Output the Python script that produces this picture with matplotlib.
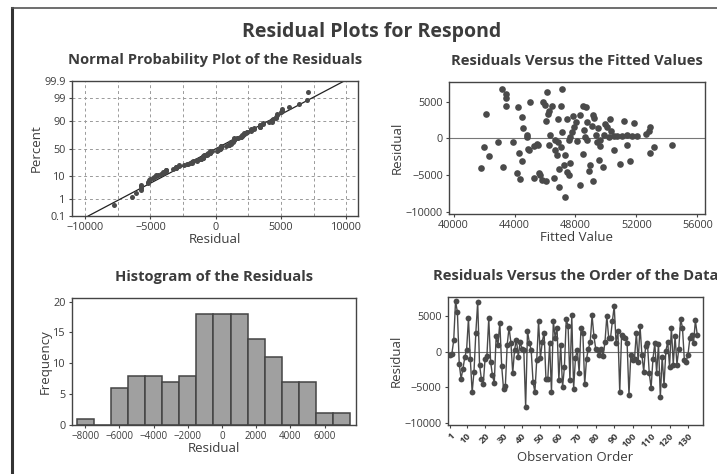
import numpy as np
import matplotlib
matplotlib.use("Agg")
import matplotlib.pyplot as plt
from matplotlib.lines import Line2D
from statistics import NormalDist

# residuals in observation order
residuals = [
    -400, -300, 1600, 7100, 5600, -1700, -3800, -2400, -800, 300,
    4700, -1000, -5700, -2800, 2700, 7000, -1800, -3800, -4600, -1000,
    -600, 4700, -1400, -3300, -4400, 2200, 1000, 4100, -2000, -5200,
    -4800, 1000, 3400, 1300, -3000, 300, 1700, -700, 1400, 400,
    200, -7800, 2900, 1300, 200, -4200, -5700, -1200, 4300, -900,
    1400, 2700, -3800, -3900, 1200, -5700, 4300, 2000, 3400, -4000,
    1000, -5000, -2200, 4600, 3600, -4000, 5100, -5200, -900, 300,
    -3000, 3400, 2700, -4600, -1000, 400, 1400, 5100, 2200, 400,
    200, -400, 400, -600, 1400, 5000, 2000, 1900, 4300, 6400,
    1300, 2900, -5700, 2400, 2100, 2000, 1200, -6100, -400, -1100,
    -1000, 2700, -1400, 3600, -400, -2800, 800, 1200, -3000, -5100,
    -1000, 1200, -3000, 1100, -6400, -700, -4700, 100, 1400, -2100,
    3400, -1800, 2200, -1800, 400, 4600, 3400, -1100, -1400, -400,
    1900, 2300, 1200, 4400, 2400,
]

# residuals vs fits scatter
fitted_x = [
    43190, 43450, 43410, 44220, 42140, 44500, 45000, 46140, 47120, 45880,
    46030, 46470, 47060, 46250, 46180, 46100, 46840, 44570, 44790, 44790,
    47450, 47850, 48280, 48500, 48700, 49160, 49250, 48760, 49090, 49460,
    50250, 50080, 50340, 51210, 51870, 47930, 47780, 47120, 46360, 47630,
    48650, 49380, 49860, 50510, 50730, 51060, 51390, 51710, 52870, 52810,
    52650, 42930, 43910, 41990, 42320, 41810, 43260, 44280, 44870, 45530,
    45270, 46250, 46840, 46690, 47020, 47560, 48110, 48760, 49420, 49640,
    50510, 51390, 53130, 54340, 52920, 44500, 44180, 44390, 45600, 45270,
    45810, 46100, 46580, 46910, 46910, 47340, 47230, 47630, 47450, 47560,
    48500, 48980, 48870, 49530, 49810, 48330, 49160, 50950, 51610, 47340,
    46690, 45490, 44940, 48060, 48590, 49640, 50180, 49970, 52040, 46800,
    45700, 43410,
]
fitted_res = [
    6710, 5580, 4460, 4230, 3330, 2970, 4910, 6350, 6800, 5000,
    4550, 4370, 4370, 3780, 3330, 2430, 2660, 1400, 500, 250,
    2660, 3110, 3200, 4460, 4230, 3200, 2750, 2210, 1670, 1400,
    2660, 1530, 1080, 2340, 2070, 1530, 860, 860, 500, 180,
    180, 500, 500, 400, 320, 400, 500, 320, 1530, 1080,
    630, -500, -500, -1170, -2390, -4010, -3870, -1940, -1490, -860,
    -1040, -860, -500, -1620, -1170, -270, -400, -270, -500, -1080,
    -1620, -950, -1170, -860, -1980, -3110, -4640, -5540, -4640, -5360,
    -5670, -5810, -5450, -6580, -4100, -2210, -3560, -3290, -4550, -5000,
    -2070, -3560, -4460, -2970, -3870, -6350, -5810, -3420, -3110, -7930,
    -270, -720, -1620, 2210, 1170, -270, 180, 1980, 270, -2300,
    -5000, 6040,
]

hist_edges = np.arange(-8500, 8500, 1000)

prob_ticks = [0.1, 1, 10, 50, 90, 99, 99.9]
prob_labels = ["0.1", "1", "10", "50", "90", "99", "99.9"]
order_ticks = [1, 10, 20, 30, 40, 50, 60, 70, 80, 90, 100, 110, 120, 130]

TXT = "#3c3c3c"
MARK = "#4a4a4a"
FONT = "Open Sans"

plt.rcParams["font.family"] = [FONT, "DejaVu Sans"]
plt.rcParams["axes.edgecolor"] = "#444444"
plt.rcParams["axes.linewidth"] = 1.0
plt.rcParams["xtick.color"] = "#444444"
plt.rcParams["ytick.color"] = "#444444"
plt.rcParams["xtick.labelcolor"] = TXT
plt.rcParams["ytick.labelcolor"] = TXT
plt.rcParams["xtick.labelsize"] = 7.8
plt.rcParams["ytick.labelsize"] = 7.8
plt.rcParams["xtick.major.size"] = 2.5
plt.rcParams["ytick.major.size"] = 2.5
plt.rcParams["xtick.major.pad"] = 2
plt.rcParams["ytick.major.pad"] = 2


def panel_title(fig, ax, text):
    pos = ax.get_position()
    fig.text((pos.x0 + pos.x1) / 2, pos.y1 + 0.03, text, ha="center", va="bottom",
             fontsize=10.6, fontweight="bold", color=TXT)


fig = plt.figure(figsize=(7.17, 4.74), dpi=100)

ax1 = fig.add_axes([0.1004, 0.5443, 0.399, 0.2848])
ax2 = fig.add_axes([0.6262, 0.5485, 0.357, 0.2785])
ax3 = fig.add_axes([0.1004, 0.1034, 0.396, 0.268])
ax4 = fig.add_axes([0.6248, 0.1034, 0.3556, 0.27])

# normal probability plot
nd = NormalDist()
res = np.array(residuals, dtype=float)
n = len(res)
srt = np.sort(res)
pct = (np.arange(1, n + 1) - 0.3) / (n + 0.4)
zs = np.array([nd.inv_cdf(p) for p in pct])
mu, sd = res.mean(), res.std(ddof=1)
zlo, zhi = nd.inv_cdf(0.001), nd.inv_cdf(0.999)
ax1.plot([mu + zlo * sd, mu + zhi * sd], [zlo, zhi], color="#222222", lw=0.9)
ax1.plot(srt, zs, "o", color=MARK, ms=3.6, mec="none")
ax1.set_xlim(-11000, 10900)
ax1.set_ylim(zlo, zhi)
ax1.set_xticks([-10000, -5000, 0, 5000, 10000])
ax1.set_xticks(np.arange(-10000, 10001, 2500), minor=True)
ax1.set_yticks([nd.inv_cdf(p / 100) for p in prob_ticks])
ax1.set_yticklabels(prob_labels)
ax1.tick_params(which="minor", length=0)
ax1.grid(True, which="both", axis="x", ls=(0, (3, 3)), color="#9a9a9a", lw=0.7)
ax1.grid(True, which="major", axis="y", ls=(0, (3, 3)), color="#9a9a9a", lw=0.7)
ax1.set_axisbelow(True)
ax1.set_xlabel("Residual", fontsize=9.5, color=TXT, labelpad=0)
ax1.set_ylabel("Percent", fontsize=9.5, color=TXT, labelpad=1)

# residuals vs fitted values
ax2.axhline(0, color="#777777", lw=0.8)
ax2.plot(fitted_x, fitted_res, "o", color=MARK, ms=4.8, mec="none")
ax2.set_xlim(39700, 56500)
ax2.set_ylim(-10300, 7700)
ax2.set_xticks(np.arange(40000, 56001, 4000))
ax2.set_yticks([-10000, -5000, 0, 5000])
ax2.set_xlabel("Fitted Value", fontsize=9.5, color=TXT, labelpad=0)
ax2.set_ylabel("Residual", fontsize=9.5, color=TXT, labelpad=1)

# histogram
ax3.hist(res, bins=hist_edges, color="#a0a0a0", edgecolor="#444444", lw=1.1)
ax3.set_xlim(-8770, 7830)
ax3.set_ylim(0, 20.6)
ax3.set_xticks(np.arange(-8000, 6001, 2000))
ax3.set_yticks([0, 5, 10, 15, 20])
ax3.tick_params(axis="x", labelsize=7)
ax3.set_xlabel("Residual", fontsize=9.5, color=TXT, labelpad=0)
ax3.set_ylabel("Frequency", fontsize=9.5, color=TXT, labelpad=1)

# residuals vs order
obs = np.arange(1, n + 1)
ax4.axhline(0, color="#777777", lw=0.8)
ax4.plot(obs, res, "-o", color=MARK, lw=1.0, ms=4.2, mec="none")
ax4.set_xlim(-0.1, 138.1)
ax4.set_ylim(-10300, 7700)
ax4.set_xticks(order_ticks)
ax4.set_xticklabels([str(t) for t in order_ticks], rotation=45, ha="right",
                    rotation_mode="anchor", fontsize=6.8, fontweight="bold")
ax4.set_yticks([-10000, -5000, 0, 5000])
ax4.set_xlabel("Observation Order", fontsize=9.5, color=TXT, labelpad=1)
ax4.set_ylabel("Residual", fontsize=9.5, color=TXT, labelpad=1)

panel_title(fig, ax1, "Normal Probability Plot of the Residuals")
panel_title(fig, ax2, "Residuals Versus the Fitted Values")
panel_title(fig, ax3, "Histogram of the Residuals")
panel_title(fig, ax4, "Residuals Versus the Order of the Data")

fig.text(0.519, 0.932, "Residual Plots for Respond", ha="center", va="center",
         fontsize=14, fontweight="bold", color=TXT)

# frame edge left over from the original graph window
fig.add_artist(Line2D([12 / 717, 12 / 717], [0, 1 - 8 / 474], transform=fig.transFigure,
                      color="#333333", lw=2.2))
fig.add_artist(Line2D([12 / 717, 1], [1 - 8 / 474, 1 - 8 / 474], transform=fig.transFigure,
                      color="#555555", lw=1.2))

fig.savefig("out.png", dpi=100)
